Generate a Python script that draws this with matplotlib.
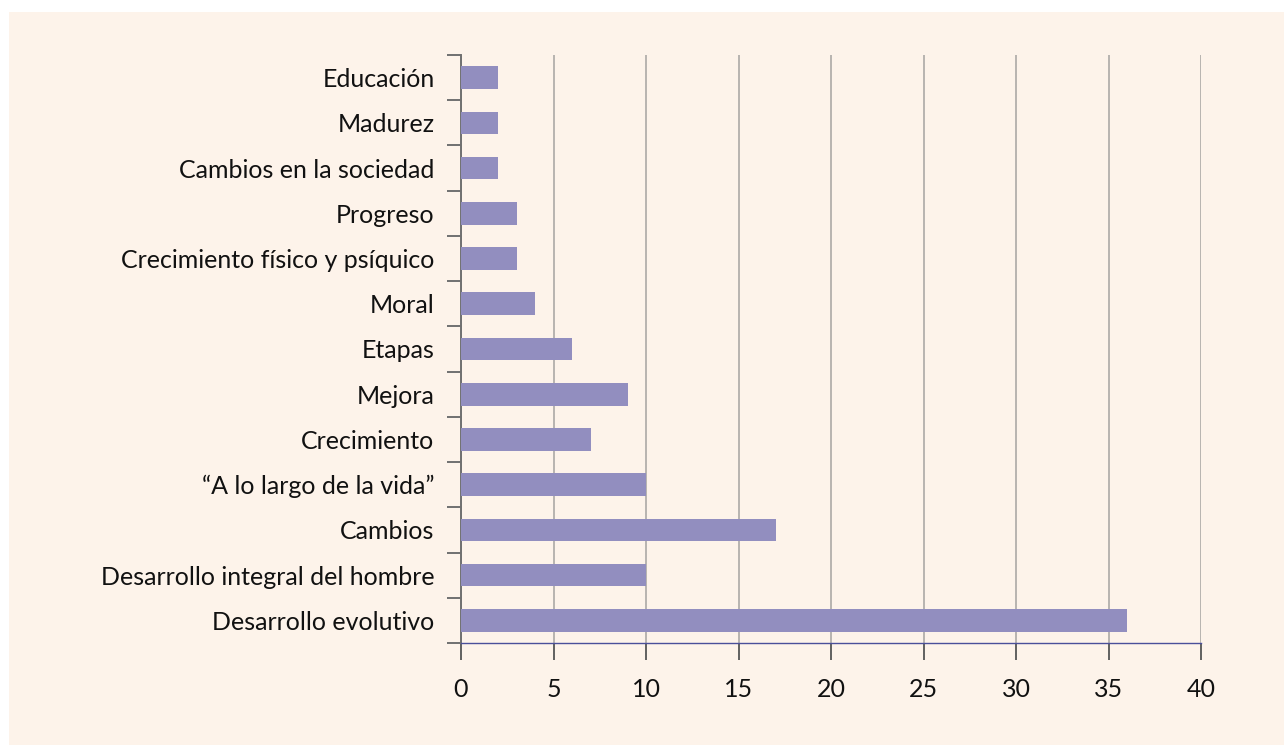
import numpy as np
import matplotlib.pyplot as plt
from matplotlib.patches import Rectangle
from matplotlib.ticker import FixedLocator

# ---------- data ----------
categories = [
    "Desarrollo evolutivo",
    "Desarrollo integral del hombre",
    "Cambios",
    "\u201cA lo largo de la vida\u201d",
    "Crecimiento",
    "Mejora",
    "Etapas",
    "Moral",
    "Crecimiento físico y psíquico",
    "Progreso",
    "Cambios en la sociedad",
    "Madurez",
    "Educación",
]
values = [36, 10, 17, 10, 7, 9, 6, 4, 3, 3, 2, 2, 2]
x_ticks = [0, 5, 10, 15, 20, 25, 30, 35, 40]

# ---------- style ----------
CREAM = "#fdf3ea"
BAR = "#928ebf"
GRID = "#b8b4b0"
plt.rcParams["font.family"] = ["Lato", "DejaVu Sans"]

fig = plt.figure(figsize=(12.84, 7.45), dpi=100)
fig.patch.set_facecolor("white")
# cream panel behind the chart (white margin top/left)
fig.patches.append(Rectangle((9 / 1284, 0), 1, 1 - 12 / 745,
                             transform=fig.transFigure, facecolor=CREAM,
                             edgecolor="none", zorder=-10))

ax = fig.add_axes([461 / 1284, 1 - 643 / 745, 740 / 1284, 588 / 745])
ax.set_facecolor("none")
ax.set_zorder(1)

y = np.arange(len(categories))
ax.barh(y, values, height=0.5, color=BAR, zorder=3)

ax.set_xlim(0, 40)
ax.set_ylim(-0.5, len(categories) - 0.5)
ax.set_xticks(x_ticks)
ax.set_yticks(y)
ax.set_yticklabels(categories)
ax.yaxis.set_minor_locator(FixedLocator(np.arange(-0.5, len(categories), 1.0)))

ax.grid(axis="x", color=GRID, linewidth=1.4, zorder=1)
ax.set_axisbelow(True)

for s in ("top", "right"):
    ax.spines[s].set_visible(False)
ax.spines["left"].set_color("#707070")
ax.spines["left"].set_linewidth(1.4)
ax.spines["bottom"].set_color("#4a4f9a")
ax.spines["bottom"].set_linewidth(1.0)

ax.tick_params(axis="y", which="major", length=0, pad=19, labelsize=18,
               labelcolor="#111111")
ax.tick_params(axis="y", which="minor", length=10, width=1.4, color="#707070")
ax.tick_params(axis="x", which="major", length=12, width=1.4, color="#606060",
               pad=13, labelsize=18, labelcolor="#111111")

plt.savefig("out.png", dpi=100)
